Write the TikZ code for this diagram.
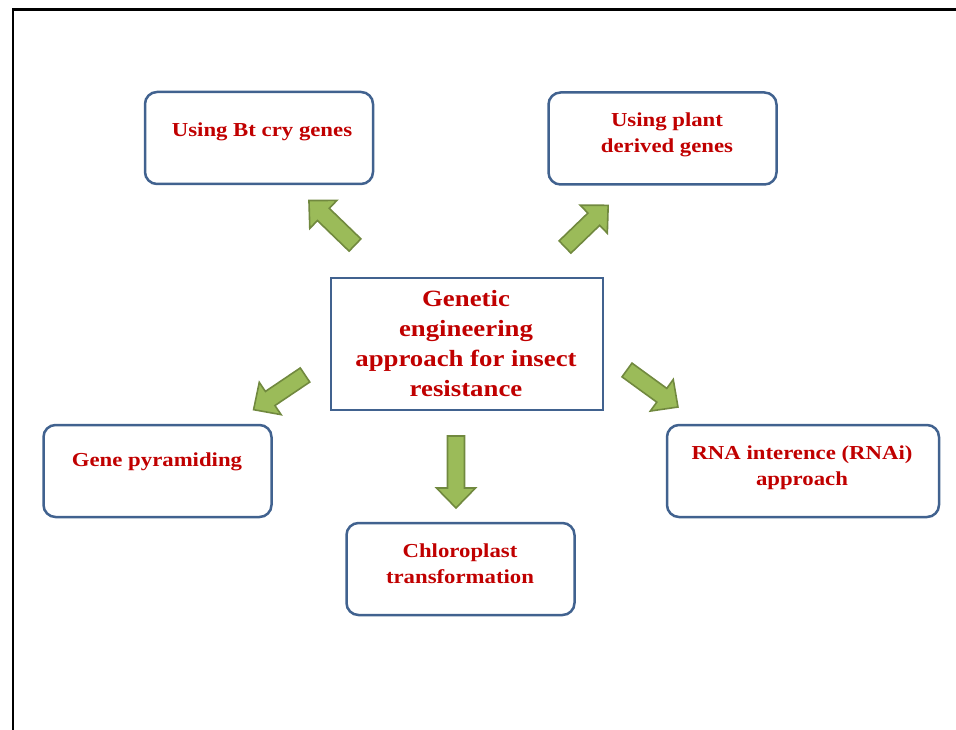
\documentclass[tikz,border=0pt]{standalone}
\usepackage{fontspec}
\setmainfont{Liberation Serif}[FakeStretch=1.15]
\definecolor{boxblue}{HTML}{41628F}
\definecolor{txtred}{HTML}{C00000}
\definecolor{arrfill}{HTML}{9BBB59}
\definecolor{arrline}{HTML}{71893F}
\begin{document}
\begin{tikzpicture}[x=1pt,y=-1pt,
  rbox/.style={draw=boxblue,line width=2.5pt,rounded corners=12pt,minimum width=228pt,minimum height=92pt,inner sep=0pt},
  cbox/.style={draw=boxblue,line width=2.5pt,minimum width=272pt,minimum height=132pt,inner sep=0pt},
  txt/.style={text=txtred,font=\bfseries\fontsize{19.8}{26}\selectfont,align=center,inner sep=0pt},
  ctxt/.style={text=txtred,font=\bfseries\fontsize{23.3}{30}\selectfont,align=center,inner sep=0pt},
  blockarr/.style={fill=arrfill,draw=arrline,line width=1.6pt,line join=miter}]
\useasboundingbox (0,0) rectangle (956,730);
\draw[line width=2.8pt] (13,745) -- (13,9.5) -- (975,9.5);
% boxes
\node[cbox] (c) at (467,344) {};
\node[rbox] (bt) at (259,138) {};
\node[rbox] (pl) at (662.5,138.5) {};
\node[rbox] (gp) at (157.5,471) {};
\node[rbox,minimum width=272pt] (rn) at (803,471) {};
\node[rbox] (ch) at (460.5,569) {};
% texts
\node[ctxt] (ct) at (466,344) {Genetic\\engineering\\approach for insect\\resistance};
\node[txt] (btt) at (262,132) {Using Bt cry genes};
\node[txt] (plt) at (667,135) {Using plant\\derived genes};
\node[txt] (gpt) at (157,462) {Gene pyramiding};
\node[txt] (rnt) at (802,468) {RNA interence (RNAi)\\approach};
\node[txt] (cht) at (460,564) {Chloroplast\\transformation};
% arrows
\newcommand\blockarrow[3]{%
  \begin{scope}[shift={#1},rotate=#2]
  \draw[blockarr] (0,-8.5) -- (#3-20,-8.5) -- (#3-20,-19.5) -- (#3,0) -- (#3-20,19.5) -- (#3-20,8.5) -- (0,8.5) -- cycle;
  \end{scope}}
\blockarrow{(355,245)}{136}{64}
\blockarrow{(565,247)}{44}{60}
\blockarrow{(305,375)}{214}{62}
\blockarrow{(627,370)}{-36}{63}
\blockarrow{(456,436)}{-90}{72}
\end{tikzpicture}
\end{document}
